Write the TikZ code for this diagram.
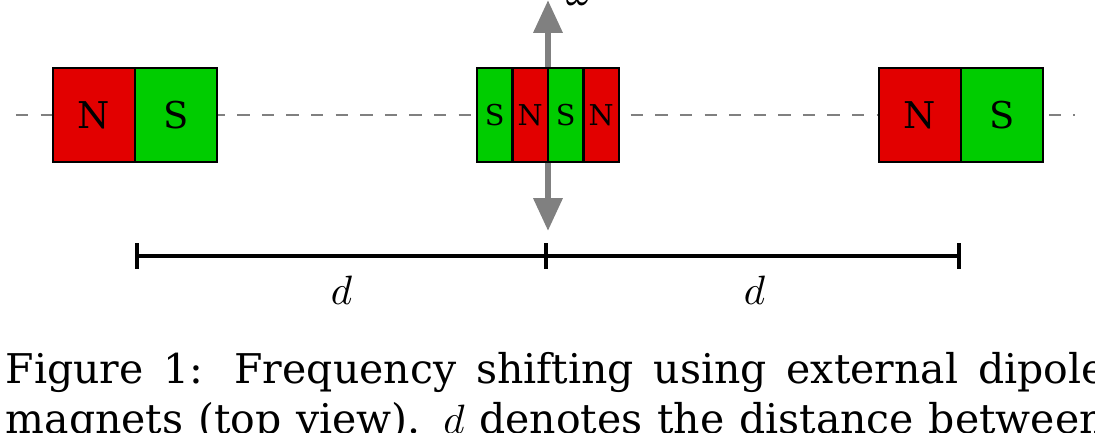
\documentclass[tikz,border=0pt]{standalone}
\usepackage{fontspec}
\setmainfont{DejaVu Serif}
\usetikzlibrary{positioning,arrows.meta}
\definecolor{northred}{RGB}{226,0,0}
\definecolor{southgreen}{RGB}{0,204,0}

\begin{document}
\begin{tikzpicture}[x=0.244pt,y=-0.244pt,
        pole/.style={draw,line width=0.5pt,inner sep=0pt,outer sep=0pt,
            minimum width=20.1pt,minimum height=22.9pt,font=\fontsize{9}{9}\selectfont},
        npole/.style={pole,fill=northred},
        spole/.style={pole,fill=southgreen},
        strip/.style={minimum width=8.66pt,font=\fontsize{7}{7}\selectfont},
        axis/.style={gray,dashed,line width=0.5pt},
        spin/.style={gray,line width=1.6pt,{Triangle[length=8pt,width=6.8pt]}-{Triangle[length=8pt,width=6.8pt]}},
        span/.style={line width=0.9pt}]
    \useasboundingbox (0,0) rectangle (1095,432);
    \coordinate (axisL) at (16,115);
    \coordinate (axisR) at (1075,115);
    \coordinate (spinT) at (548,0);
    \coordinate (spinB) at (548,231);
    \coordinate (spanL) at (135,256);
    \coordinate (spanM) at (548,256);
    \coordinate (spanR) at (961,256);
    \draw[axis] (axisL) -- (axisR);
    \draw[spin] (spinB) -- (spinT);
    \node[npole] (lN) at (93.8,115) {N};
    \node[spole,right=0pt of lN] (lS) {S};
    \node[spole,strip] (c1) at (494.75,115) {S};
    \node[npole,strip,right=0pt of c1] (c2) {N};
    \node[spole,strip,right=0pt of c2] (c3) {S};
    \node[npole,strip,right=0pt of c3] (c4) {N};
    \node[npole] (rN) at (919.8,115) {N};
    \node[spole,right=0pt of rN] (rS) {S};
    \node[anchor=base west,inner sep=0pt] (omega) at (565,5) {$\omega$};
    \draw[span,{Bar[width=6.3pt]}-{Bar[width=6.3pt]}] (spanL) -- node[below=1pt] (dL) {$d$} (spanM);
    \draw[span,-{Bar[width=6.3pt]}] (spanM) -- node[below=1pt] (dR) {$d$} (spanR);
    \node[anchor=base west,inner sep=0pt,text width=268.4pt,align=justify,
        font=\fontsize{10}{12.2}\selectfont] (caption) at (5,383)
        {Figure 1: Frequency shifting using external dipole\linebreak
        magnets (top view). $d$ denotes the distance between\linebreak\mbox{}};
\end{tikzpicture}
\end{document}
